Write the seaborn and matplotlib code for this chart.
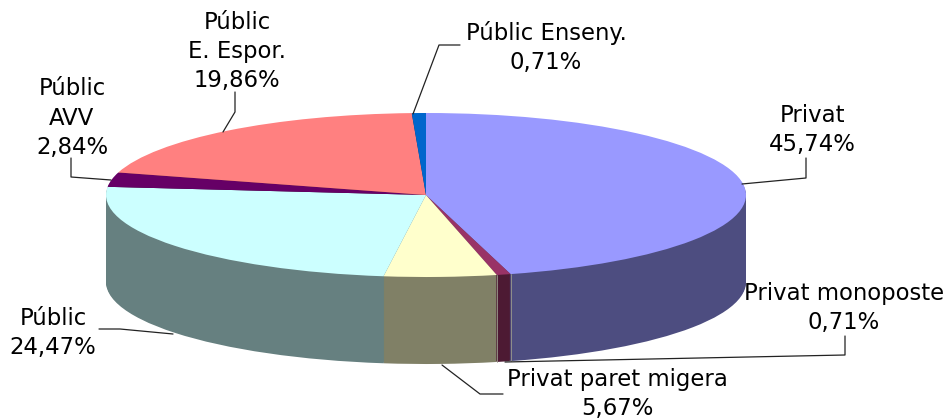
import math
import matplotlib
matplotlib.use("Agg")
import matplotlib.pyplot as plt
import seaborn as sns

noms = ["Privat", "Privat monoposte", "Privat paret migera", "Públic",
        "Públic\nAVV", "Públic\nE. Espor.", "Públic Enseny."]
valors = [45.74, 0.71, 5.67, 24.47, 2.84, 19.86, 0.71]
colors_dalt = ["#9999FF", "#993366", "#FFFFCC", "#CCFFFF", "#660066", "#FF8080", "#0066CC"]
colors_lat = ["#4D4D80", "#4D1A33", "#808066", "#668080", "#330033", "#804040", "#003366"]

# posicio de les etiquetes i linies guia, en pixels de la imatge
pos_text = [(812, 130), (844, 308), (617, 394), (53, 333), (72, 118), (237, 51.5), (546, 47.5)]
guies = [
    [(806, 158), (806, 178), (742, 184)],
    [(845, 336), (845, 355), (505, 362)],
    [(503, 394), (480, 394), (442, 365)],
    [(99, 329), (120, 329), (173, 334)],
    [(71, 158), (71, 177), (111, 180)],
    [(235, 92), (235, 112), (223, 132)],
    [(460, 45), (439, 45), (413, 114)],
]

W, H = 947, 419
cx, cy, rx, ry, fons = 426, 195, 320, 82, 87

sns.set_theme(style="white")
plt.rcParams["font.family"] = "DejaVu Sans"

fig = plt.figure(figsize=(W / 100, H / 100), dpi=100)
ax = fig.add_axes([0, 0, 1, 1])

# el lateral es fa apilant pastissos, del mes baix al de dalt
for d in range(fons, 0, -1):
    ax.pie(valors, colors=colors_lat, startangle=90, counterclock=False,
           center=(0, -d / ry), wedgeprops={"linewidth": 0})
wedges, _ = ax.pie(valors, colors=colors_dalt, startangle=90, counterclock=False,
                   wedgeprops={"linewidth": 0})
ax.set_aspect("auto")
ax.set_xlim(-cx / rx, (W - cx) / rx)
ax.set_ylim(-(H - cy) / ry, cy / ry)

# costures clares entre sectors a la part frontal del lateral
for w in wedges:
    t = math.radians(w.theta2)
    if math.sin(t) < 0 and math.sin(math.radians(w.theta1)) < 0:
        x, y = math.cos(t), math.sin(t)
        ax.plot([x, x], [y, y - fons / ry], color="#9A9A8C", lw=0.6)

# capa en pixels per a textos i guies
ax2 = fig.add_axes([0, 0, 1, 1])
ax2.set_xlim(0, W)
ax2.set_ylim(H, 0)
ax2.axis("off")

for nom, val, (x, y), guia in zip(noms, valors, pos_text, guies):
    etiqueta = nom + "\n" + f"{val:.2f}".replace(".", ",") + "%"
    ax2.text(x, y, etiqueta, ha="center", va="center", fontsize=16.4, color="black",
             linespacing=1.34)
    ax2.plot([p[0] for p in guia], [p[1] for p in guia], color="#222222", lw=0.9)

fig.savefig("out.png", dpi=100)
